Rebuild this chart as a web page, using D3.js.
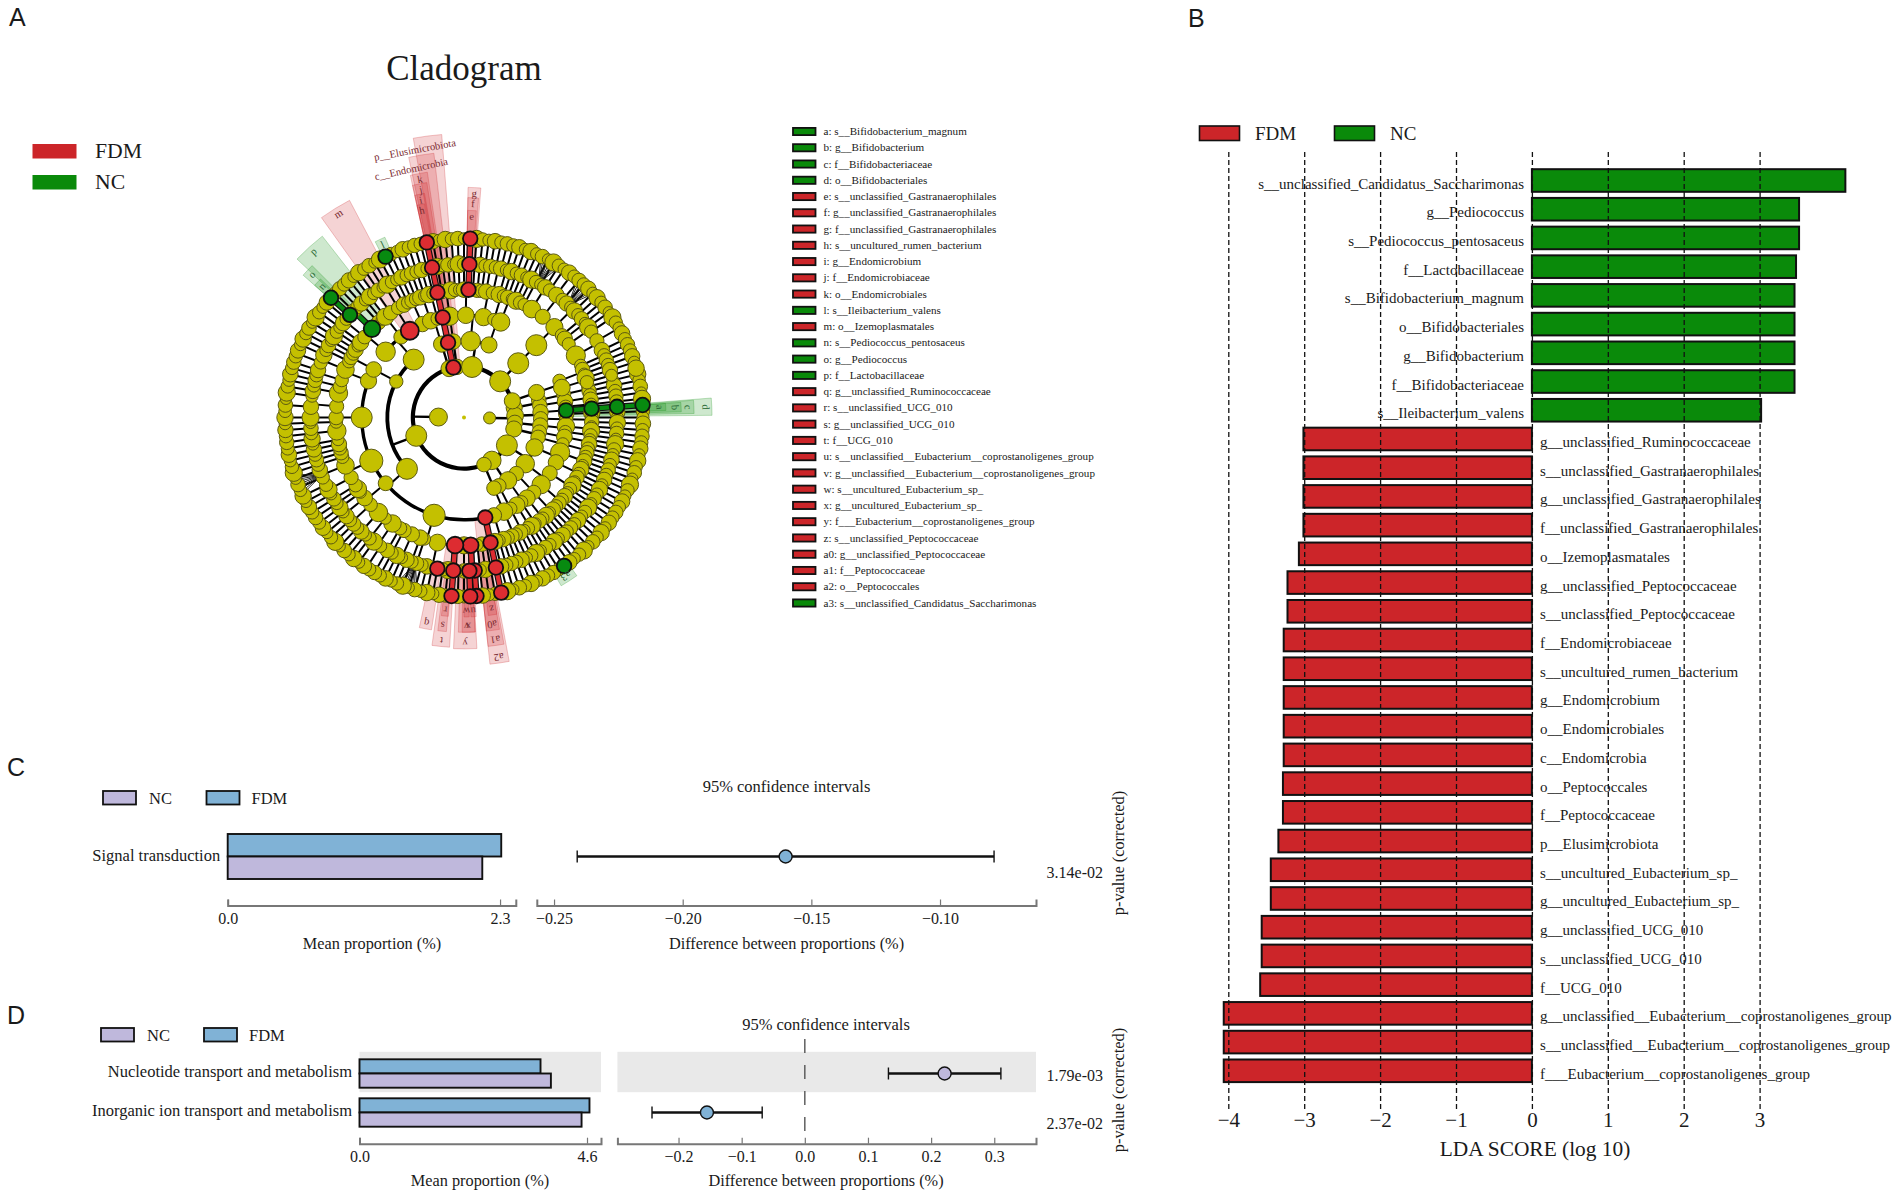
<!DOCTYPE html>
<html><head><meta charset="utf-8">
<script src="https://cdn.jsdelivr.net/npm/d3@7"></script>
<style>
html,body{margin:0;padding:0;background:#fff}
svg{display:block}
text{font-family:"Liberation Serif",serif;fill:#1a1a1a}
.letter{font-family:"Liberation Sans",sans-serif;font-size:25px}
</style></head><body><svg id="c" width="1902" height="1198"></svg>
<script>
// ---------- Panel A data ----------
// nested taxonomy: arrays are nodes, integers are chains running out to the species ring
const kingdomRight = [
  [[[2]],[[2]]],
  [[[1],[1],[1]],[[2]]],
  [[[2],[1]]],
  [[[2]],[[2]]]
];
const phylumP6 = [[[3],[3]],[[4],[4]],[[2]]];
const phylumP7 = [[[3],[1],[2]],[[2]]];
const phylumP7b = [[[2]]];
const classClostridia = [
  [4],
  [1],
  [3,[1,1],1,[1,1,1],[1,1,1,1,1],2,[1,1,1],2,[[2],1],1,[1,1,1]],
  [[1,1],[1,1],1],
  [2,[1,1,1],[[2],1],2],
  [3,[1,1,1],2,[[3],1],[1,1],1],
  [[1,1],[[2],1],1]
];
const classBacilli = [
  [2,2,[1,1],[1,1,1],2],
  [1],
  [[1,1],[1,1],1],
  [3]
];
const phylumP8 = [classClostridia,[[1]],classBacilli];
const phylumP9 = [[[2],[2]]];
const phylumElusi = [[[1]]];
const phylumP11 = [[[3]]];
const phylumP12 = [[[3,1,2],[2,[1,1]]],[[2],[2]]];
const phylumP13 = [[[3,[1,1,1],[[2],1],[1,1,1,1],2,[1,1],[[3],1],1]]];
const phylumP14 = [[[2],[2]]];
const kingdomLeft = [phylumP6,phylumP7,phylumP7b,phylumP8,phylumP9,phylumElusi,phylumP11,phylumP12,phylumP13,phylumP14];
const abundanceOffsets = [0,1,-.7,1.5,-.4,.6,-1,1.9,0,-.6,1.1,-.2,.5];
const fanDegrees = [248,198.6,29,42.8];
// letter, full name, species-order index, ring, group
const taxa = [
 ["a","s__Bifidobacterium_magnum",5,7,"NC"],["b","g__Bifidobacterium",5,6,"NC"],["c","f__Bifidobacteriaceae",5,5,"NC"],["d","o__Bifidobacteriales",5,4,"NC"],
 ["e","s__unclassified_Gastranaerophilales",143,7,"FDM"],["f","g__unclassified_Gastranaerophilales",143,6,"FDM"],["g","f__unclassified_Gastranaerophilales",143,5,"FDM"],
 ["h","s__uncultured_rumen_bacterium",136,7,"FDM"],["i","g__Endomicrobium",136,6,"FDM"],["j","f__Endomicrobiaceae",136,5,"FDM"],["k","o__Endomicrobiales",136,4,"FDM"],
 ["l","s__Ileibacterium_valens",129,7,"NC"],["m","o__Izemoplasmatales",124,4,"FDM"],
 ["n","s__Pediococcus_pentosaceus",118,7,"NC"],["o","g__Pediococcus",118,6,"NC"],["p","f__Lactobacillaceae",118,5,"NC"],
 ["q","g__unclassified_Ruminococcaceae",57,6,"FDM"],
 ["r","s__unclassified_UCG_010",54,7,"FDM"],["s","g__unclassified_UCG_010",54,6,"FDM"],["t","f__UCG_010",54,5,"FDM"],
 ["u","s__unclassified__Eubacterium__coprostanoligenes_group",50,7,"FDM"],["v","g__unclassified__Eubacterium__coprostanoligenes_group",50,6,"FDM"],
 ["w","s__uncultured_Eubacterium_sp_",51,7,"FDM"],["x","g__uncultured_Eubacterium_sp_",51,6,"FDM"],["y","f___Eubacterium__coprostanoligenes_group",50,5,"FDM"],
 ["z","s__unclassified_Peptococcaceae",46,7,"FDM"],["a0","g__unclassified_Peptococcaceae",46,6,"FDM"],["a1","f__Peptococcaceae",46,5,"FDM"],["a2","o__Peptococcales",46,4,"FDM"],
 ["a3","s__unclassified_Candidatus_Saccharimonas",35,7,"NC"]
];
const taxaUnlisted = [["p__Elusimicrobiota","",136,2,"FDM"],["c__Endomicrobia","",136,3,"FDM"]];
// background band of each clade: first degree, last degree, outer ring
const shades = {
 a:[86,88,7.9],b:[86,88.5,8.5],c:[85.7,89,9.0],d:[85.5,89.5,9.7],
 e:[1,3.4,8.1],f:[1,3.8,8.6],g:[1,4.2,9.0],
 h:[347.5,349.5,8.5],i:[347.5,350,8.9],j:[347.5,351,9.3],k:[347.5,351.5,9.7],
 "c__Endomicrobia":[348,353.5,10.4],"p__Elusimicrobiota":[349.7,355.5,11.1],
 l:[333.2,336.3,7.7],m:[324.5,332.2,9.6],n:[311.5,314,7.8],o:[311.5,315,8.4],p:[313.5,322,9.0],
 q:[188.7,192,8.4],r:[184.5,186.5,7.8],s:[184.7,187,8.4],t:[183.6,188,9.0],
 u:[176.5,178,7.8],v:[177,181.5,8.4],w:[178.5,180,7.8],x:[177,180.5,8.4],y:[176.8,182.6,9.05],
 z:[170.5,173,7.8],a0:[170.5,174,8.4],a1:[170,174,9.0],a2:[169.5,174,9.7],a3:[144.5,150,7.6]
};
const groupFill = {FDM:"#cc2529",NC:"#0a8a0a"};
const nodeFill = {FDM:"#dd2c31",NC:"#078a10"};

// ---------- Panel B data ----------
const ldaNames = ["s__unclassified_Candidatus_Saccharimonas","g__Pediococcus","s__Pediococcus_pentosaceus","f__Lactobacillaceae","s__Bifidobacterium_magnum","o__Bifidobacteriales","g__Bifidobacterium","f__Bifidobacteriaceae","s__Ileibacterium_valens","g__unclassified_Ruminococcaceae","s__unclassified_Gastranaerophilales","g__unclassified_Gastranaerophilales","f__unclassified_Gastranaerophilales","o__Izemoplasmatales","g__unclassified_Peptococcaceae","s__unclassified_Peptococcaceae","f__Endomicrobiaceae","s__uncultured_rumen_bacterium","g__Endomicrobium","o__Endomicrobiales","c__Endomicrobia","o__Peptococcales","f__Peptococcaceae","p__Elusimicrobiota","s__uncultured_Eubacterium_sp_","g__uncultured_Eubacterium_sp_","g__unclassified_UCG_010","s__unclassified_UCG_010","f__UCG_010","g__unclassified__Eubacterium__coprostanoligenes_group","s__unclassified__Eubacterium__coprostanoligenes_group","f___Eubacterium__coprostanoligenes_group"];
const ldaValues = [4.13,3.52,3.52,3.48,3.46,3.46,3.46,3.46,3.02,-3.01,-3.01,-3.01,-3.01,-3.07,-3.22,-3.22,-3.27,-3.27,-3.27,-3.27,-3.27,-3.28,-3.28,-3.34,-3.44,-3.44,-3.56,-3.56,-3.58,-4.06,-4.06,-4.06];
const ldaTicks = [-4,-3,-2,-1,0,1,2,3];

// ---------- Panels C and D data ----------
const cCategories = ["Signal transduction"];
const cNC = [2.15];
const cFDM = [2.31];
const cDiff = [-0.16];
const cLow = [-0.241];
const cHigh = [-0.079];
const cPvals = ["3.14e-02"];
const cDiffTicks = [-0.25,-0.20,-0.15,-0.10];
const dCategories = ["Nucleotide transport and metabolism","Inorganic ion transport and metabolism"];
const dNC = [3.87,4.49];
const dFDM = [3.66,4.65];
const dDiff = [0.2214,-0.155];
const dLow = [0.1324,-0.242];
const dHigh = [0.3105,-0.0675];
const dPvals = ["1.79e-03","2.37e-02"];
const dDiffTicks = [-0.2,-0.1,0.0,0.1,0.2,0.3];

// ---------- drawing ----------
const svg = d3.select("#c");
function txt(p,x,y,s,size,anchor){
  return p.append("text").attr("x",x).attr("y",y).attr("font-size",size).attr("text-anchor",anchor||"start").text(s);
}
[["A",9,26],["B",1188,27],["C",7,776],["D",7,1024]].forEach(l=>svg.append("text").attr("class","letter").attr("x",l[1]).attr("y",l[2]).text(l[0]));

// ---- Panel A ----
txt(svg,464,80,"Cladogram",35,"middle");
[["FDM",144],["NC",175]].forEach(r=>{
  svg.append("rect").attr("x",32.5).attr("y",r[1]).attr("width",44).attr("height",14.5).attr("fill",groupFill[r[0]]);
  txt(svg,95,r[1]+14,r[0],21.7);
});
function chain(depth){ return depth>=7?{}:{children:[chain(depth+1)]}; }
function build(arr,depth){
  const kids=[];
  arr.forEach(e=>{
    if(typeof e==="number"){ for(let i=0;i<e;i++) kids.push(chain(depth+1)); }
    else kids.push(build(e,depth+1));
  });
  return {children:kids};
}
const root = d3.hierarchy(build([kingdomRight,kingdomLeft],0));
const leaves = root.leaves();
const angle = d3.scaleLinear().domain([0,leaves.length-1]).range([76,76+2*(leaves.length-1)]);
const radius = d3.scaleLinear().domain([0,7]).range([0,179]);
const size = d3.scaleSqrt().domain([1,14]).range([6.7,10.5]).clamp(true);
leaves.forEach((l,i)=>{l.a=angle(i);});
root.each(n=>{ if(n.children){ const ls=n.leaves(); n.a=(ls[0].a+ls[ls.length-1].a)/2; } });
const rad=d=>d*Math.PI/180;
const gA=svg.append("g").attr("transform","translate(464,417.5)");
const allTaxa=taxa.concat(taxaUnlisted);
allTaxa.forEach(t=>{
  const node=leaves[t[2]].ancestors().find(n=>n.depth===t[3]);
  node.group=t[4]; t.node=node;
});
// clade background bands
const wedge=d3.arc();
allTaxa.slice().sort((a,b)=>a[3]-b[3]).forEach(t=>{
  const s=shades[t[0]];
  gA.append("path").attr("d",wedge({innerRadius:radius(t[3]),outerRadius:radius(s[2]),startAngle:rad(s[0]),endAngle:rad(s[1])}))
    .attr("fill",groupFill[t[4]]).attr("fill-opacity",.2).attr("stroke",groupFill[t[4]]).attr("stroke-opacity",.25).attr("stroke-width",1);
});
// branches
const lineW=d3.scaleLinear().domain([2,7]).range([4.2,2.2]);
const pr=(a,r)=>d3.pointRadial(rad(a),r);
const seg=(a,r0,r1)=>{const p=pr(a,r0),q=pr(a,r1);return `M${p[0]},${p[1]}L${q[0]},${q[1]}`;};
const gEdges=gA.append("g").attr("fill","none");
root.descendants().filter(n=>n.depth>=1&&n.children).forEach(n=>{
  const ring=radius(n.depth+1), w=lineW(n.depth+1);
  const first=n.children[0].a,last=n.children[n.children.length-1].a;
  if(last>first) gEdges.append("path").attr("d",wedge({innerRadius:ring-w/2,outerRadius:ring+w/2,startAngle:rad(first),endAngle:rad(last)})).attr("fill","#000");
  gEdges.append("path").attr("d",seg(n.a,radius(n.depth),ring)).attr("stroke","#000").attr("stroke-width",n.depth<3?2.4:2);
});
// the dense fans of very fine twigs
fanDegrees.forEach(a=>{
  d3.range(-3,3.01,.75).forEach(off=>{
    const p=pr(a,radius(6)),q=pr(a+off,radius(6.85));
    gEdges.append("path").attr("d",`M${p[0]},${p[1]}L${q[0]},${q[1]}`).attr("stroke","#111").attr("stroke-width",.9);
  });
});
// coloured branches between marked nodes
root.descendants().filter(n=>n.group&&n.parent&&n.parent.group).forEach(n=>{
  const p=n.parent, ring=radius(n.depth);
  gEdges.append("path").attr("d",seg(p.a,radius(p.depth),ring)).attr("stroke","#111").attr("stroke-width",6.5);
  gEdges.append("path").attr("d",seg(p.a,radius(p.depth),ring)).attr("stroke",nodeFill[n.group]).attr("stroke-width",4.2);
  if(Math.abs(p.a-n.a)>.01){
    const a0=Math.min(p.a,n.a),a1=Math.max(p.a,n.a);
    gEdges.append("path").attr("d",wedge({innerRadius:ring-2.2,outerRadius:ring+2.2,startAngle:rad(a0),endAngle:rad(a1)})).attr("fill",nodeFill[n.group]);
  }
});
// nodes
const kingdomRadius=[6,9];
const drawn=root.descendants().filter(n=>n.depth>0).sort((a,b)=>(a.group?1:0)-(b.group?1:0)||a.depth-b.depth);
drawn.forEach((n,i)=>{
  const p=pr(n.a,radius(n.depth));
  const base=n.depth===1?kingdomRadius[root.children.indexOf(n)]:size(n.leaves().length);
  const r=n.group?base+.6:(n.depth>=4?base+abundanceOffsets[i%abundanceOffsets.length]:base);
  gA.append("circle").attr("cx",p[0]).attr("cy",p[1]).attr("r",r)
    .attr("fill",n.group?nodeFill[n.group]:"#c4c000").attr("stroke",n.group?"#111":"#5c5a10").attr("stroke-width",n.group?1.8:1);
});
gA.append("circle").attr("r",2).attr("fill","#c4c000");
// clade letters
taxa.forEach(t=>{
  const s=shades[t[0]], mid=(s[0]+s[1])/2, p=pr(mid,radius(s[2])-7);
  gA.append("text").attr("transform",`translate(${p[0]},${p[1]}) rotate(${mid})`).attr("text-anchor","middle").attr("dominant-baseline","middle")
    .attr("font-size",10.5).style("fill",t[4]==="FDM"?"#7a2a30":"#2a6a35").text(t[0]);
});
taxaUnlisted.forEach(t=>{
  const mid=t[0][0]==="p"?-10.4:-12, p=pr(mid,t[0][0]==="p"?271:253);
  gA.append("text").attr("transform",`translate(${p[0]},${p[1]}) rotate(${mid})`).attr("text-anchor","middle").attr("dominant-baseline","middle")
    .attr("font-size",10.5).style("fill","#7a2a30").text(t[0]);
});
// key
const keyY=d3.scalePoint().domain(taxa.map(t=>t[0])).range([131.5,603]);
taxa.forEach(t=>{
  svg.append("rect").attr("x",793).attr("y",keyY(t[0])-3.6).attr("width",22.5).attr("height",7.2).attr("fill",groupFill[t[4]]).attr("stroke","#111").attr("stroke-width",1.8);
  txt(svg,823.5,keyY(t[0])+3.6,`${t[0]}: ${t[1]}`,11.1);
});

// ---- Panel B ----
const xB=d3.scaleLinear().domain([-4,3]).range([1228.3,1759.6]);
const yB=d3.scalePoint().domain(ldaNames).range([180.5,1070.8]);
[["FDM",1199.5,1255],["NC",1334.5,1390]].forEach(r=>{
  svg.append("rect").attr("x",r[1]).attr("y",126).attr("width",40).attr("height",14.5).attr("fill",groupFill[r[0]]).attr("stroke","#111").attr("stroke-width",1.6);
  txt(svg,r[2],140,r[0],19);
});
const gB=svg.append("g");
ldaNames.forEach((n,i)=>{
  const v=ldaValues[i],x=xB(Math.min(0,v)),w=Math.abs(xB(v)-xB(0));
  gB.append("rect").attr("x",x).attr("y",yB(n)-11.3).attr("width",w).attr("height",22.6).attr("fill",v>0?groupFill.NC:groupFill.FDM).attr("stroke","#111").attr("stroke-width",2);
});
ldaNames.forEach((n,i)=>{
  const v=ldaValues[i];
  txt(gB,v>0?1524:1540,yB(n)+8,n,15,v>0?"end":"start");
});
const axB=svg.append("g").attr("transform","translate(0,1109)").call(d3.axisBottom(xB).tickValues(ldaTicks).tickFormat(d3.format("d")).tickSize(-958).tickPadding(-2));
axB.select(".domain").remove();
axB.selectAll("line").attr("stroke","#111").attr("stroke-width",1.3).attr("stroke-dasharray","5 3");
axB.selectAll("text").attr("font-size",21).attr("font-family","Liberation Serif").attr("dy",".95em");
txt(svg,1535,1156,"LDA SCORE (log 10)",21.4,"middle");

// ---- Panels C and D ----
const clrNC="#bfb8dc", clrFDM="#80b2d6";
function stamp(o){
  const g=svg.append("g");
  [["NC",o.legNC,o.legNC+46,clrNC],["FDM",o.legFDM,o.legFDM+45,clrFDM]].forEach(r=>{
    g.append("rect").attr("x",r[1]).attr("y",o.legY).attr("width",33).attr("height",13.5).attr("fill",r[3]).attr("stroke","#111").attr("stroke-width",1.8);
    txt(g,r[2],o.legY+13,r[0],16.5);
  });
  txt(g,o.ciCx,o.titleY,"95% confidence intervals",16.5,"middle");
  o.bands.forEach(b=>{
    g.append("rect").attr("x",o.meanRange[0]).attr("y",b-20.2).attr("width",o.meanRange[1]-o.meanRange[0]).attr("height",40.4).attr("fill","#e9e9e9");
    g.append("rect").attr("x",o.ciRange[0]).attr("y",b-20.2).attr("width",o.ciRange[1]-o.ciRange[0]).attr("height",40.4).attr("fill","#e9e9e9");
  });
  const xM=d3.scaleLinear().domain(o.meanDomain).range(o.meanRange);
  const xC=d3.scaleLinear().domain(o.ciDomain).range(o.ciRange);
  const y=d3.scalePoint().domain(o.cats).range(o.rowRange);
  const barH=o.barH;
  if(o.zero) g.append("line").attr("x1",xC(0)).attr("x2",xC(0)).attr("y1",o.zero[0]).attr("y2",o.zero[1]).attr("stroke","#555").attr("stroke-width",1.4).attr("stroke-dasharray","14 12");
  o.cats.forEach((c,i)=>{
    const yc=y(c);
    g.append("rect").attr("x",xM(0)).attr("y",yc-barH).attr("width",xM(o.fdm[i])-xM(0)).attr("height",barH).attr("fill",clrFDM).attr("stroke","#111").attr("stroke-width",1.9);
    g.append("rect").attr("x",xM(0)).attr("y",yc).attr("width",xM(o.nc[i])-xM(0)).attr("height",barH).attr("fill",clrNC).attr("stroke","#111").attr("stroke-width",1.9);
    txt(g,o.meanRange[0]-7.5,yc+o.labDy,c,16.5,"end");
    g.append("line").attr("x1",xC(o.low[i])).attr("x2",xC(o.high[i])).attr("y1",yc).attr("y2",yc).attr("stroke","#111").attr("stroke-width",2.6);
    [o.low[i],o.high[i]].forEach(v=>g.append("line").attr("x1",xC(v)).attr("x2",xC(v)).attr("y1",yc-6).attr("y2",yc+6).attr("stroke","#111").attr("stroke-width",1.4));
    g.append("circle").attr("cx",xC(o.diff[i])).attr("cy",yc).attr("r",6.5).attr("fill",o.diff[i]>0?clrNC:clrFDM).attr("stroke","#111").attr("stroke-width",1.4);
    txt(g,1103,o.pY[i],o.p[i],16,"end");
  });
  [d3.axisBottom(xM).tickValues(o.meanTicks).tickFormat(d3.format(".1f")),d3.axisBottom(xC).tickValues(o.ciTicks).tickFormat(d3.format(o.ciFmt))].forEach(a=>{
    const ax=g.append("g").attr("transform",`translate(0,${o.axisY})`).call(a.tickSizeOuter(0).tickSize(-6).tickPadding(4));
    ax.select(".domain").attr("stroke","#777").attr("stroke-width",2);
    ax.selectAll("line").attr("stroke","#777").attr("stroke-width",1.2);
    ax.selectAll("text").attr("font-size",16).attr("font-family","Liberation Serif").attr("dy",".9em");
  });
  txt(g,o.meanCx,o.labY,"Mean proportion (%)",16.3,"middle");
  txt(g,o.ciCx,o.labY,"Difference between proportions (%)",16.3,"middle");
  g.append("text").attr("transform",`translate(1124,${o.pLabY}) rotate(-90)`).attr("text-anchor","middle").attr("font-size",16.3).text("p-value (corrected)");
}
stamp({cats:cCategories,nc:cNC,fdm:cFDM,diff:cDiff,low:cLow,high:cHigh,p:cPvals,pY:[878],labDy:4.5,
  meanDomain:[0,2.433],meanRange:[227.7,515.8],ciDomain:[-0.2567,-0.0627],ciRange:[536.8,1036],
  rowRange:[856.5,856.5],barH:22.5,axisY:905.5,meanTicks:[0,2.3],ciTicks:cDiffTicks,ciFmt:".2f",
  legNC:103,legFDM:206.5,legY:791,titleY:792,ciCx:786.5,meanCx:372,labY:949,pLabY:853,bands:[]});
stamp({cats:dCategories,nc:dNC,fdm:dFDM,diff:dDiff,low:dLow,high:dHigh,p:dPvals,pY:[1081,1129],labDy:3.5,
  meanDomain:[0,4.883],meanRange:[359.5,601],ciDomain:[-0.2968,0.3661],ciRange:[617.4,1036],
  rowRange:[1073.5,1112.5],barH:14.2,axisY:1143.7,meanTicks:[0,4.6],ciTicks:dDiffTicks,ciFmt:".1f",
  legNC:101,legFDM:204,legY:1028,titleY:1029.5,ciCx:826,meanCx:480,labY:1186,pLabY:1090,bands:[1072],zero:[1039,1133]});
</script></body></html>
